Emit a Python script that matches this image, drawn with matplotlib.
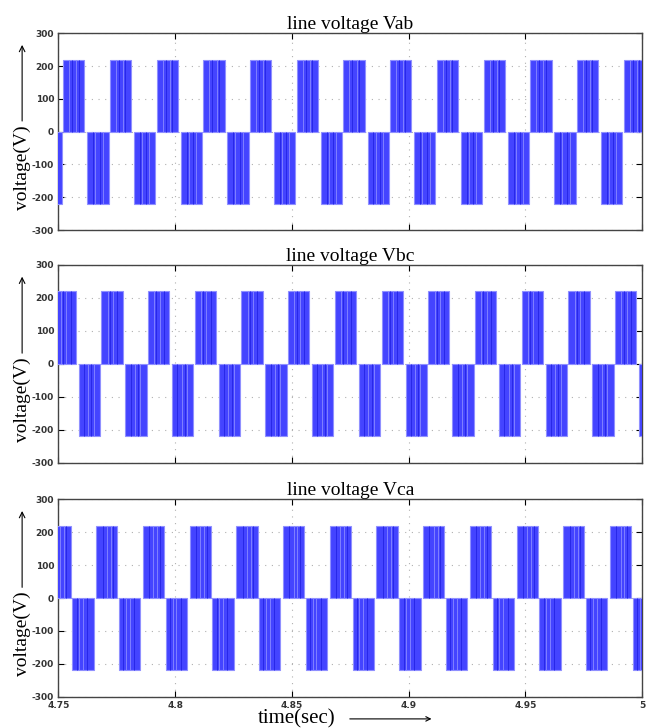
import numpy as np
import matplotlib
matplotlib.use('Agg')
import matplotlib.pyplot as plt

plt.rcParams['axes.unicode_minus'] = False

# time axis and amplitude
t_min, t_max = 4.75, 5.0
amp = 220
pulse_w = 0.0091  # width of one block (s)

titles = ['line voltage Vab', 'line voltage Vbc', 'line voltage Vca']

# start time of each positive / negative block
vab_pos = [4.7521, 4.7721, 4.7921, 4.8121, 4.8321, 4.8521, 4.8721,
           4.8921, 4.9121, 4.9321, 4.9521, 4.9721, 4.9921]
vab_neg = [4.7424, 4.7624, 4.7824, 4.8024, 4.8224, 4.8424, 4.8624,
           4.8824, 4.9024, 4.9224, 4.9424, 4.9624, 4.9824]
vbc_pos = [4.7484, 4.7684, 4.7884, 4.8084, 4.8284, 4.8484, 4.8684,
           4.8884, 4.9084, 4.9284, 4.9484, 4.9684, 4.9884]
vbc_neg = [4.7587, 4.7787, 4.7987, 4.8187, 4.8387, 4.8587, 4.8787,
           4.8987, 4.9187, 4.9387, 4.9587, 4.9787, 4.9987]
vca_pos = [4.7462, 4.7662, 4.7862, 4.8062, 4.8262, 4.8462, 4.8662,
           4.8862, 4.9062, 4.9262, 4.9462, 4.9662, 4.9862]
vca_neg = [4.7560, 4.7760, 4.7960, 4.8160, 4.8360, 4.8560, 4.8760,
           4.8960, 4.9160, 4.9360, 4.9560, 4.9760, 4.9960]

# position of thin switching notches inside a block (fraction of block width)
vab_light = [0.28, 0.62]
vab_dark = [0.42, 0.72]
vbc_light = [0.3, 0.55]
vbc_dark = [0.4, 0.75]
vca_light = [0.5, 0.68]
vca_dark = [0.3, 0.8]

panels = [(vab_pos, vab_neg, vab_light, vab_dark),
          (vbc_pos, vbc_neg, vbc_light, vbc_dark),
          (vca_pos, vca_neg, vca_light, vca_dark)]

yticks = [-300, -200, -100, 0, 100, 200, 300]
xticks = [4.75, 4.8, 4.85, 4.9, 4.95, 5.0]
xticklabels = ['4.75', '4.8', '4.85', '4.9', '4.95', '5']

fill_col = '#4444ff'
edge_col = '#9090ff'

fig = plt.figure(figsize=(6.56, 7.28), dpi=100)

# axes rectangles [left, bottom, width, height] in figure fraction
rects = [[0.0889, 0.684, 0.890, 0.2703],
         [0.0889, 0.3644, 0.890, 0.2716],
         [0.0889, 0.0430, 0.890, 0.2711]]

for i, (pos, neg, light, dark) in enumerate(panels):
    ax = fig.add_axes(rects[i])
    pos = np.array(pos)
    neg = np.array(neg)
    ax.bar(pos, amp, width=pulse_w, align='edge', color=fill_col,
           edgecolor=edge_col, linewidth=0.8, zorder=3)
    ax.bar(neg, -amp, width=pulse_w, align='edge', color=fill_col,
           edgecolor=edge_col, linewidth=0.8, zorder=3)
    # notches inside the blocks (subtle)
    for f in light:
        ax.vlines(pos + f * pulse_w, 0, amp, color='#8a8aff', lw=0.6, zorder=4)
        ax.vlines(neg + (1 - f) * pulse_w, -amp, 0, color='#8a8aff', lw=0.6, zorder=4)
    for f in dark:
        ax.vlines(pos + f * pulse_w, 0, amp, color='#2828e8', lw=0.7, zorder=4)
        ax.vlines(neg + (1 - f) * pulse_w, -amp, 0, color='#2828e8', lw=0.7, zorder=4)

    ax.set_xlim(t_min, t_max)
    ax.set_ylim(-300, 300)
    ax.set_yticks(yticks)
    ax.set_xticks(xticks)
    ax.tick_params(direction='in', top=True, right=True, length=4,
                   labelsize=6.5, labelcolor='#333333', pad=3)
    for lab in ax.get_yticklabels() + ax.get_xticklabels():
        lab.set_fontweight('bold')
        lab.set_family('DejaVu Sans')
    if i < 2:
        ax.set_xticklabels([])
    else:
        ax.set_xticklabels(xticklabels)
    ax.grid(True, color='#b0b0b0', linestyle=(0, (1, 5)), linewidth=0.8, zorder=1)
    for s in ax.spines.values():
        s.set_linewidth(1.0)
        s.set_color('#444444')
    ax.set_title(titles[i], family='Liberation Serif', fontsize=14, pad=3)

    # y label with an up arrow
    ax.text(-0.062, 0.317, 'voltage(V)', transform=ax.transAxes, rotation=90,
            family='Liberation Serif', fontsize=14, ha='center', va='center')
    ax.annotate('', xy=(-0.062, 0.955), xytext=(-0.062, 0.54),
                xycoords='axes fraction',
                arrowprops=dict(arrowstyle='->', color='black', lw=0.8))

# x label with a right arrow
fig.text(0.452, 0.013, 'time(sec)', family='Liberation Serif', fontsize=15,
         ha='center', va='center')
fig.add_artist(matplotlib.patches.FancyArrowPatch(
    (0.529, 0.0125), (0.662, 0.0125), transform=fig.transFigure,
    arrowstyle='->', mutation_scale=8, color='black', lw=0.8))

fig.savefig('out.png', dpi=100)
